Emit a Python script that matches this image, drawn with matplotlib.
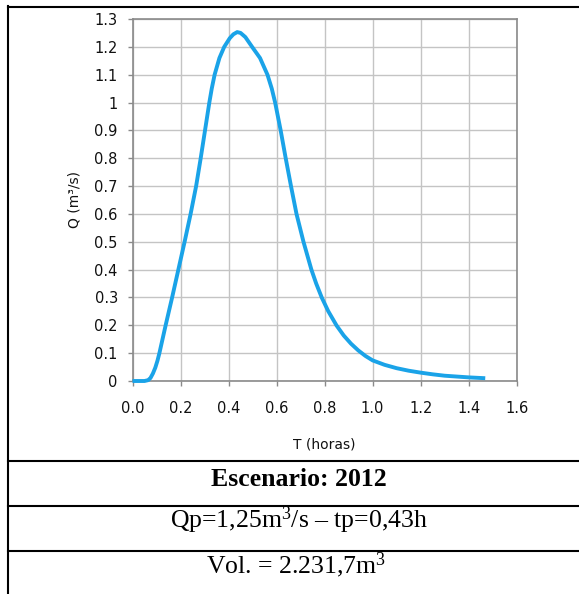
import matplotlib
matplotlib.use("Agg")
import matplotlib.pyplot as plt
from matplotlib.lines import Line2D

# ---- data ----
t_horas = [0.0, 0.05, 0.065, 0.075, 0.085, 0.095, 0.104, 0.112, 0.138, 0.165,
           0.191, 0.217, 0.242, 0.265, 0.284, 0.302, 0.320, 0.330, 0.342, 0.362,
           0.382, 0.405, 0.42, 0.436, 0.45, 0.47, 0.498, 0.531, 0.562, 0.58,
           0.594, 0.617, 0.638, 0.660, 0.683, 0.712, 0.745, 0.765, 0.788, 0.815,
           0.85, 0.88, 0.91, 0.94, 0.97, 1.0, 1.05, 1.1, 1.15, 1.2,
           1.25, 1.3, 1.35, 1.4, 1.469]
q_m3s = [0.0, 0.0, 0.003, 0.011, 0.027, 0.048, 0.073, 0.1, 0.2, 0.3,
         0.4, 0.5, 0.6, 0.7, 0.8, 0.9, 1.0, 1.05, 1.1, 1.16,
         1.2, 1.231, 1.245, 1.253, 1.25, 1.235, 1.2, 1.16, 1.1, 1.05,
         1.0, 0.9, 0.8, 0.7, 0.6, 0.5, 0.4, 0.35, 0.3, 0.251,
         0.199, 0.163, 0.134, 0.110, 0.090, 0.074, 0.058, 0.046, 0.037, 0.030,
         0.024, 0.019, 0.016, 0.013, 0.010]

x_ticks = [0.0, 0.2, 0.4, 0.6, 0.8, 1.0, 1.2, 1.4, 1.6]
y_ticks = [0, 0.1, 0.2, 0.3, 0.4, 0.5, 0.6, 0.7, 0.8, 0.9, 1.0, 1.1, 1.2, 1.3]
x_label = "T (horas)"
y_label = "Q (m³/s)"
row1 = "Escenario: 2012"
row2 = "Qp=1,25m$^{3}$/s – tp=0,43h"
row3 = "Vol. = 2.231,7m$^{3}$"

plt.rcParams['mathtext.fontset'] = 'custom'
plt.rcParams['mathtext.rm'] = 'Liberation Serif'
plt.rcParams['mathtext.it'] = 'Liberation Serif:italic'
plt.rcParams['mathtext.bf'] = 'Liberation Serif:bold'

W, H = 579, 594
fig = plt.figure(figsize=(W / 100, H / 100), dpi=100)
fig.patch.set_facecolor('white')

def fx(px):
    return px / W

def fy(py):
    return 1 - py / H

ax = fig.add_axes([fx(132.5), fy(381), fx(516.7) - fx(132.5), fy(19) - fy(381)])

ax.plot(t_horas, q_m3s, color='#1AA3E8', lw=2.8, solid_capstyle='butt',
        solid_joinstyle='round', zorder=3, clip_on=False)

ax.set_xlim(0, 1.6)
ax.set_ylim(0, 1.3)
ax.set_xticks(x_ticks)
ax.set_xticklabels([f"{v:.1f}" for v in x_ticks])
ax.set_yticks(y_ticks)
ax.set_yticklabels([f"{v:g}" for v in y_ticks])
ax.grid(True, color='#C4C4C4', lw=1.0, zorder=0)
ax.set_axisbelow(True)
for s in ax.spines.values():
    s.set_color('#8A8A8A')
    s.set_linewidth(1.2)
ax.tick_params(axis='both', direction='out', length=3.6, width=1, color='#8A8A8A',
               labelsize=10.5, labelcolor='#111111')
ax.tick_params(axis='x', pad=11)
ax.tick_params(axis='y', pad=7)
ax.set_xlabel(x_label, fontsize=10, color='#111111')
ax.set_ylabel(y_label, fontsize=10, color='#111111')
ax.xaxis.set_label_coords(0.5, -(437 - 381) / 362, transform=ax.transAxes)
ax.yaxis.set_label_coords(-(132.5 - 81.7) / 384.2, 0.5, transform=ax.transAxes)

# table frame lines
lw_tab = 1.5
fig.add_artist(Line2D([fx(8), fx(579)], [fy(6.5), fy(6.5)], color='black', lw=lw_tab))
fig.add_artist(Line2D([fx(8.3), fx(8.3)], [fy(6), fy(594)], color='black', lw=lw_tab))
for yy in [461, 506, 550.5]:
    fig.add_artist(Line2D([fx(8), fx(579)], [fy(yy), fy(yy)], color='black', lw=lw_tab))

fig.text(fx(299), fy(485.7), row1, ha='center', va='baseline', fontsize=18.5,
         fontweight='bold', family='Liberation Serif', color='black')
fig.text(fx(299), fy(528.3), row2, ha='center', va='baseline', fontsize=18.5,
         family='Liberation Serif', color='black')
fig.text(fx(296), fy(573.3), row3, ha='center', va='baseline', fontsize=18.5,
         family='Liberation Serif', color='black')

fig.savefig('out.png', dpi=100)
